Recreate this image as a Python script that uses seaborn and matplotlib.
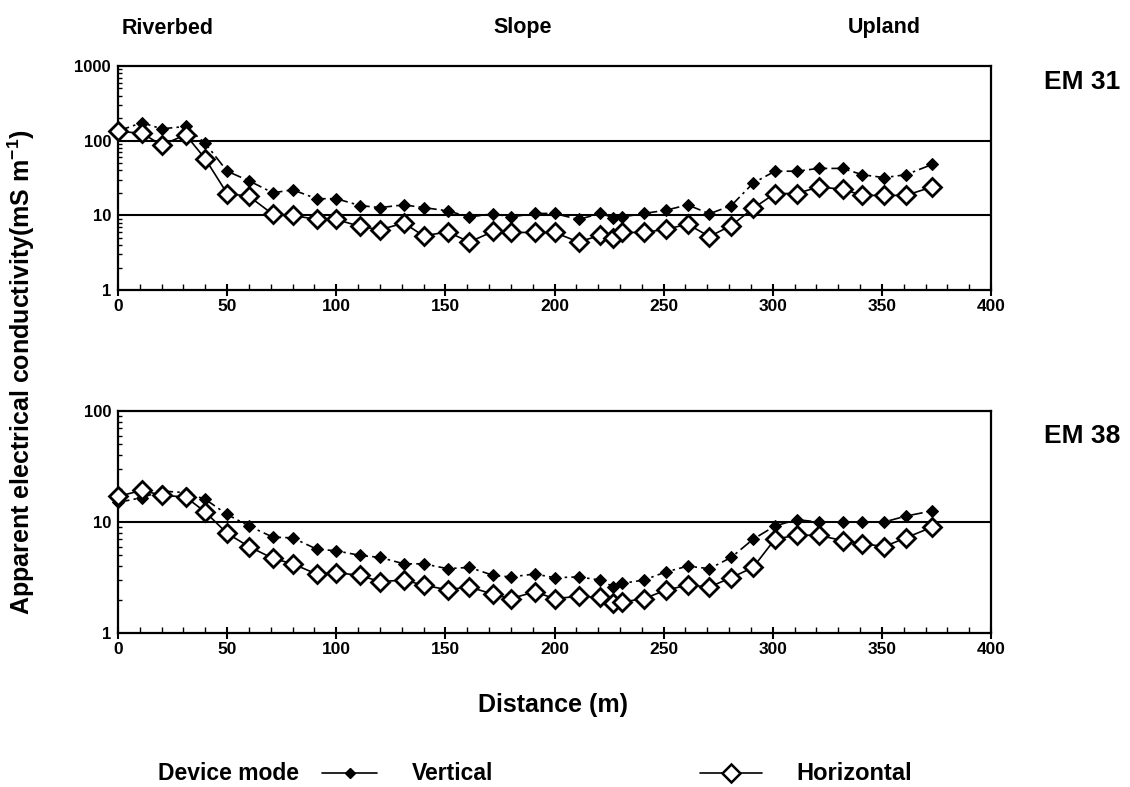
import numpy as np
import pandas as pd
import matplotlib
matplotlib.use("Agg")
import matplotlib.pyplot as plt
import seaborn as sns
from matplotlib.ticker import FixedLocator, FixedFormatter, LogLocator, NullFormatter, MultipleLocator
from matplotlib.lines import Line2D

# ---------------- data ----------------
distance = [0, 11, 20, 31, 40, 50, 60, 71, 80, 91, 100, 111, 120, 131, 140, 151, 161, 172,
            180, 191, 200, 211, 221, 227, 231, 241, 251, 261, 271, 281, 291, 301, 311, 321,
            332, 341, 351, 361, 373]

em31_vertical = [135, 174, 144, 155, 92, 39, 29, 20, 22, 16.7, 16.7, 13.5, 12.7, 13.8, 12.7,
                 11.5, 9.5, 10.5, 9.5, 10.6, 10.6, 8.8, 10.6, 9.3, 9.5, 10.6, 11.7, 13.8, 10.5,
                 13.5, 27, 39, 39, 42.5, 42.5, 35, 32, 35, 48]
em31_horizontal = [133, 126, 87, 120, 57, 19.6, 18, 10.3, 10, 8.8, 8.8, 7.1, 6.4, 7.9, 5.3,
                   6.0, 4.4, 6.1, 5.9, 5.9, 5.9, 4.4, 5.4, 5.0, 5.9, 5.9, 6.5, 7.6, 5.2, 7.3,
                   12.4, 19.6, 19.6, 24, 22.4, 18.5, 18.5, 18.5, 24]

em38_vertical = [15, 16.6, 19, 18.4, 16, 11.7, 9.2, 7.3, 7.2, 5.7, 5.5, 5.0, 4.8, 4.2, 4.2,
                 3.8, 3.9, 3.3, 3.2, 3.4, 3.15, 3.2, 3.0, 2.6, 2.8, 3.0, 3.55, 4.0, 3.8, 4.8,
                 7.0, 9.2, 10.5, 10, 10, 10, 10, 11.3, 12.6]
em38_horizontal = [17, 19.3, 17.4, 16.8, 12.3, 7.9, 6.0, 4.7, 4.2, 3.4, 3.5, 3.3, 2.9, 3.0,
                   2.7, 2.45, 2.6, 2.23, 2.04, 2.35, 2.04, 2.14, 2.1, 1.85, 1.9, 2.04, 2.43,
                   2.7, 2.6, 3.15, 3.9, 7.0, 7.6, 7.6, 6.8, 6.4, 6.0, 7.2, 9.0]

zone_labels = ["Riverbed", "Slope", "Upland"]
panel_labels = ["EM 31", "EM 38"]
series_labels = ["Vertical", "Horizontal"]
x_ticks = [0, 50, 100, 150, 200, 250, 300, 350, 400]

# ---------------- style ----------------
sns.set_theme(style="white")
plt.rcParams["font.family"] = ["Liberation Sans", "DejaVu Sans"]
plt.rcParams["font.weight"] = "bold"
plt.rcParams["text.color"] = "black"
plt.rcParams["axes.labelcolor"] = "black"
plt.rcParams["xtick.color"] = "black"
plt.rcParams["ytick.color"] = "black"
plt.rcParams["mathtext.fontset"] = "custom"
plt.rcParams["mathtext.rm"] = "Liberation Sans:bold"
plt.rcParams["mathtext.default"] = "rm"

fig = plt.figure(figsize=(11.3, 7.87), dpi=100)
W, H = 1130, 787

def fx(px):
    return px / W

def fy(py):
    return 1 - py / H

def ax_rect(l, t, r, b):
    return [l / W, 1 - b / H, (r - l) / W, (b - t) / H]

ax1 = fig.add_axes(ax_rect(118, 66, 991, 290))
ax2 = fig.add_axes(ax_rect(118, 411, 991, 633))

df31 = pd.DataFrame({"Distance": distance, "Vertical": em31_vertical, "Horizontal": em31_horizontal})
df38 = pd.DataFrame({"Distance": distance, "Vertical": em38_vertical, "Horizontal": em38_horizontal})

vert_ls = (0, (7, 2.5, 1.5, 2.5))
vert_kw = dict(color="black", lw=1.2, linestyle=vert_ls, marker="D", markersize=6.5,
               markerfacecolor="black", markeredgecolor="black", clip_on=False, zorder=3)
hor_kw = dict(color="black", lw=1.2, linestyle="-", marker="D", markersize=9.5,
              markerfacecolor="white", markeredgecolor="black", markeredgewidth=2.0,
              clip_on=False, zorder=4)

for ax, df, ylim, ymajor in [(ax1, df31, (1, 1000), [1, 10, 100, 1000]),
                             (ax2, df38, (1, 100), [1, 10, 100])]:
    sns.lineplot(data=df, x="Distance", y="Vertical", ax=ax, estimator=None, sort=False, **vert_kw)
    sns.lineplot(data=df, x="Distance", y="Horizontal", ax=ax, estimator=None, sort=False, **hor_kw)
    ax.set_yscale("log")
    ax.set_ylim(*ylim)
    ax.set_xlim(0, 400)
    ax.set_xlabel("")
    ax.set_ylabel("")
    ax.yaxis.set_major_locator(FixedLocator(ymajor))
    ax.yaxis.set_major_formatter(FixedFormatter([str(v) for v in ymajor]))
    ax.yaxis.set_minor_locator(LogLocator(base=10, subs=np.arange(2, 10)))
    ax.yaxis.set_minor_formatter(NullFormatter())
    ax.xaxis.set_major_locator(FixedLocator(x_ticks))
    ax.xaxis.set_major_formatter(FixedFormatter([str(v) for v in x_ticks]))
    ax.xaxis.set_minor_locator(MultipleLocator(10))
    for yv in ymajor[1:-1]:
        ax.axhline(yv, color="black", lw=1.5, zorder=1)
    for s in ax.spines.values():
        s.set_visible(True)
        s.set_color("black")
        s.set_linewidth(1.6)
    ax.tick_params(axis="y", which="major", direction="in", length=4, width=1.2,
                   labelsize=12, pad=5, colors="black", left=True)
    ax.tick_params(axis="y", which="minor", direction="in", length=3, width=1.0, left=True)
    ax.tick_params(axis="x", which="major", direction="inout", length=9, width=1.5,
                   labelsize=12.5, pad=2, colors="black", bottom=True)
    ax.tick_params(axis="x", which="minor", direction="in", length=4, width=1.0, bottom=True)
    for lab in ax.get_xticklabels() + ax.get_yticklabels():
        lab.set_fontweight("bold")
    ax.set_facecolor("white")

# zone labels
for txt, xpx in zip(zone_labels, [168, 523, 884]):
    fig.text(fx(xpx), fy(28), txt, ha="center", va="center", fontsize=15.5, fontweight="bold")

# panel labels
fig.text(fx(1082), fy(82), panel_labels[0], ha="center", va="center", fontsize=19, fontweight="bold")
fig.text(fx(1082), fy(436), panel_labels[1], ha="center", va="center", fontsize=19, fontweight="bold")

# axis labels
fig.text(fx(21), fy(372), "Apparent electrical conductivity(mS m$^{-1}$)", rotation=90,
         ha="center", va="center", fontsize=18, fontweight="bold")
fig.text(fx(553), fy(705), "Distance (m)", ha="center", va="center", fontsize=18, fontweight="bold")

# legend (drawn manually to match placement)
ly = fy(773)
fig.text(fx(228), ly, "Device mode", ha="center", va="center", fontsize=16.5, fontweight="bold")
fig.add_artist(Line2D([fx(322), fx(377)], [ly, ly], transform=fig.transFigure, color="black", lw=1.2))
fig.add_artist(Line2D([fx(349.5)], [ly], transform=fig.transFigure, color="black", marker="D",
                      markersize=5, markerfacecolor="black", markeredgecolor="black"))
fig.text(fx(412), ly, series_labels[0], ha="left", va="center", fontsize=16.5, fontweight="bold")
fig.add_artist(Line2D([fx(700), fx(762)], [ly, ly], transform=fig.transFigure, color="black", lw=1.2))
fig.add_artist(Line2D([fx(731)], [ly], transform=fig.transFigure, color="black", marker="D",
                      markersize=9.5, markerfacecolor="white", markeredgecolor="black",
                      markeredgewidth=1.8))
fig.text(fx(796), ly, series_labels[1], ha="left", va="center", fontsize=17, fontweight="bold")

fig.savefig("out.png", dpi=100, facecolor="white")
